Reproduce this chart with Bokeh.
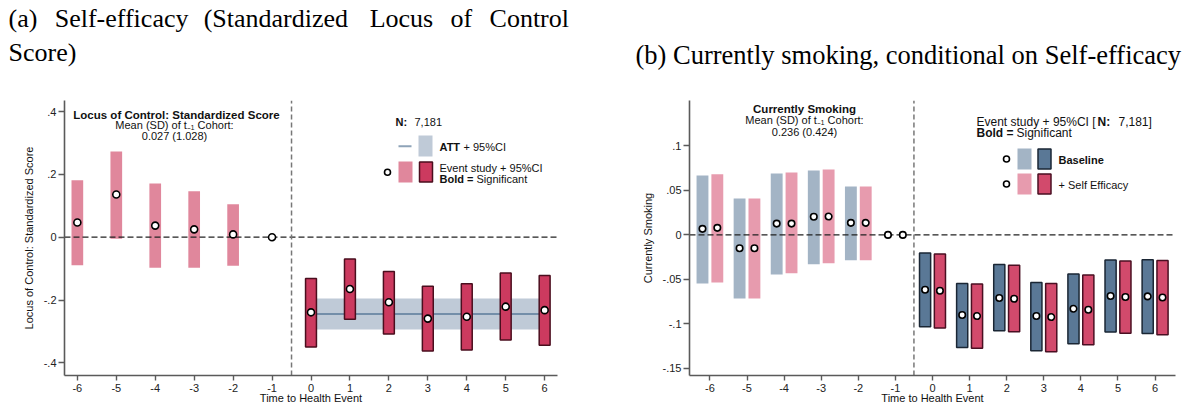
import math
from bokeh.plotting import figure
from bokeh.layouts import row
from bokeh.models import Label, FixedTicker, Range1d, ColumnDataSource, Title
from bokeh.embed import file_html
from bokeh.resources import INLINE

# ---------------- data: panel (a) ----------------
a_time = [-6, -5, -4, -3, -2, -1, 0, 1, 2, 3, 4, 5, 6]
a_est = [0.047, 0.136, 0.037, 0.025, 0.009, 0.0,
         -0.239, -0.165, -0.207, -0.259, -0.253, -0.221, -0.232]
a_lo = [-0.089, -0.005, -0.097, -0.097, -0.091, 0.0,
        -0.349, -0.261, -0.308, -0.362, -0.359, -0.327, -0.344]
a_hi = [0.181, 0.273, 0.171, 0.146, 0.105, 0.0,
        -0.131, -0.069, -0.109, -0.156, -0.148, -0.114, -0.122]
att_est, att_lo, att_hi = -0.244, -0.294, -0.195
att_span = [0, 6]
a_yticks = [-0.4, -0.2, 0, 0.2, 0.4]
a_ylabels = ["-.4", "-.2", "0", ".2", ".4"]

# ---------------- data: panel (b) ----------------
b_time = [-6, -5, -4, -3, -2, -1, 0, 1, 2, 3, 4, 5, 6]
b_base_est = [0.0068, -0.0151, 0.0127, 0.0203, 0.0135, 0.0,
              -0.0616, -0.0901, -0.0709, -0.0912, -0.0830, -0.0687, -0.0691]
b_base_lo = [-0.0545, -0.0714, -0.0444, -0.0331, -0.0286, 0.0,
             -0.1033, -0.1266, -0.1078, -0.1303, -0.1224, -0.1092, -0.1108]
b_base_hi = [0.0668, 0.0409, 0.0690, 0.0724, 0.0544, 0.0,
             -0.0203, -0.0545, -0.0334, -0.0534, -0.0439, -0.0282, -0.0278]
b_se_est = [0.0079, -0.0151, 0.0127, 0.0206, 0.0135, 0.0,
            -0.0627, -0.0912, -0.0717, -0.0923, -0.0841, -0.0698, -0.0703]
b_se_lo = [-0.0534, -0.0714, -0.0432, -0.0320, -0.0286, 0.0,
           -0.1047, -0.1273, -0.1089, -0.1314, -0.1235, -0.1104, -0.1123]
b_se_hi = [0.0680, 0.0410, 0.0700, 0.0735, 0.0544, 0.0,
           -0.0214, -0.0552, -0.0342, -0.0545, -0.0450, -0.0293, -0.0289]
b_yticks = [-0.15, -0.1, -0.05, 0, 0.05, 0.1]
b_ylabels = ["-.15", "-.1", "-.05", "0", ".05", ".1"]

SANS = "Liberation Sans"
SERIF = "Liberation Serif"
AX = "#5a5a5a"


def style_axes(p, xticks, yticks, ylabels, ylab, ylab_standoff):
    p.xgrid.visible = False
    p.ygrid.visible = False
    p.outline_line_color = None
    p.background_fill_color = "white"
    p.border_fill_color = "white"
    p.xaxis.ticker = FixedTicker(ticks=xticks)
    p.xaxis.major_label_overrides = {t: str(t) for t in xticks}
    p.yaxis.ticker = FixedTicker(ticks=yticks)
    p.yaxis.major_label_overrides = {t: l for t, l in zip(yticks, ylabels)}
    for ax in (p.xaxis[0], p.yaxis[0]):
        ax.axis_line_color = AX
        ax.axis_line_width = 1.6
        ax.major_tick_line_color = AX
        ax.major_tick_line_width = 1.4
        ax.major_tick_in = 0
        ax.minor_tick_line_color = None
        ax.major_label_text_font = SANS
        ax.major_label_text_font_size = "11px"
        ax.major_label_text_color = "#222222"
        ax.axis_label_text_font = SANS
        ax.axis_label_text_font_size = "11px"
        ax.axis_label_text_font_style = "normal"
        ax.axis_label_text_color = "#111111"
    p.xaxis.major_tick_out = 5
    p.xaxis.major_label_standoff = 3
    p.xaxis.axis_label = "Time to Health Event"
    p.xaxis.axis_label_standoff = -3
    p.yaxis.major_tick_out = 6
    p.yaxis.major_label_standoff = 2
    p.yaxis.axis_label = ylab
    p.yaxis.axis_label_standoff = ylab_standoff


def make_conv(x0px, x1px, xr, top_px, bot_px, yr):
    def cx(px):
        return xr[0] + (px - x0px) * (xr[1] - xr[0]) / (x1px - x0px)

    def cy(py):
        return yr[0] + (bot_px - py) * (yr[1] - yr[0]) / (bot_px - top_px)
    return cx, cy


def lab(p, x, y, text, size=11, bold=False, align="left", baseline="middle",
        font=SANS, color="#111111"):
    p.add_layout(Label(x=x, y=y, text=text, text_font=font,
                       text_font_size=f"{size}px",
                       text_font_style="bold" if bold else "normal",
                       text_align=align, text_baseline=baseline,
                       text_color=color))


# ================= panel (a) =================
AXR = (-6.33, 6.33)
AYR = (-0.44, 0.435)
pa = figure(width=600, height=407, x_range=Range1d(*AXR), y_range=Range1d(*AYR),
            output_backend="svg", toolbar_location=None,
            min_border_left=64, min_border_right=43,
            min_border_top=100, min_border_bottom=32)
style_axes(pa, a_time, a_yticks, a_ylabels, "Locus of Control: Standardized Score", 6)
LX, LY = make_conv(64, 557, AXR, 100, 375, AYR)

# ATT band and line
pa.quad(left=[att_span[0]], right=[att_span[1]], bottom=[att_lo], top=[att_hi],
        fill_color="#bfcad7", line_color=None)
pa.line(x=att_span, y=[att_est, att_est], line_color="#5a7a9a", line_width=1.5)

sig_a = [(lo > 0) or (hi < 0) for lo, hi in zip(a_lo, a_hi)]
has_bar = [hi > lo for lo, hi in zip(a_lo, a_hi)]
src_ns = ColumnDataSource(dict(
    x=[t for t, s, h in zip(a_time, sig_a, has_bar) if h and not s],
    top=[v for v, s, h in zip(a_hi, sig_a, has_bar) if h and not s],
    bottom=[v for v, s, h in zip(a_lo, sig_a, has_bar) if h and not s]))
src_s = ColumnDataSource(dict(
    x=[t for t, s, h in zip(a_time, sig_a, has_bar) if h and s],
    top=[v for v, s, h in zip(a_hi, sig_a, has_bar) if h and s],
    bottom=[v for v, s, h in zip(a_lo, sig_a, has_bar) if h and s]))
pa.vbar(x="x", top="top", bottom="bottom", width=0.3, source=src_ns,
        fill_color="#e0879c", line_color=None)
pa.vbar(x="x", top="top", bottom="bottom", width=0.28, source=src_s,
        fill_color="#cc3a5f", line_color="#4a0e1e", line_width=1.5)

# reference lines
pa.line(x=list(AXR), y=[0, 0], line_color="#222222", line_width=1.2, line_dash="6 3")
pa.line(x=[-0.5, -0.5], y=list(AYR), line_color="#777777", line_width=1.5, line_dash="5 3")

pa.scatter(x=a_time, y=a_est, size=7, marker="circle", fill_color="white",
           line_color="black", line_width=1.6)

# title (justified first line emulated with wider spaces; trailing blank line lifts it)
title_a = ("(a)\u2002\u2006Self-efficacy\u2002\u200a(Standardized\u2002\u2004Locus"
           "\u2002\u2006of\u2002\u2006Control\nScore)\n\u00a0")
pa.add_layout(Title(text=title_a, text_font=SERIF, text_font_size="26px",
                    text_font_style="normal", text_color="black", align="left",
                    vertical_align="bottom", offset=-56, standoff=0,
                    text_line_height=1.16), "above")

# inner annotation
lab(pa, LX(176), LY(114), "Locus of Control: Standardized Score", size=11.5,
    bold=True, align="center")
lab(pa, LX(174), LY(124.5), "Mean (SD) of t\u208b\u2081 Cohort:", size=11, align="center")
lab(pa, LX(174), LY(135), "0.027 (1.028)", size=11, align="center")

# legend (a)
lab(pa, LX(395), LY(121), "N:", size=11, bold=True)
lab(pa, LX(414), LY(121), "7,181", size=11)
pa.line(x=[LX(398), LX(411)], y=[LY(145.7), LY(145.7)], line_color="#8ea3b8", line_width=2)
pa.quad(left=[LX(418)], right=[LX(432)], top=[LY(135)], bottom=[LY(156)],
        fill_color="#bfcad7", line_color=None)
lab(pa, LX(439), LY(146), "ATT", size=11, bold=True)
lab(pa, LX(463), LY(146), "+ 95%CI", size=11)
pa.scatter(x=[LX(387)], y=[LY(171.7)], size=6, marker="circle", fill_color="white",
           line_color="black", line_width=1.6)
pa.quad(left=[LX(398)], right=[LX(412)], top=[LY(161)], bottom=[LY(182)],
        fill_color="#e0879c", line_color=None)
pa.quad(left=[LX(419)], right=[LX(432)], top=[LY(161.5)], bottom=[LY(181.5)],
        fill_color="#cc3a5f", line_color="#4a0e1e", line_width=1.5)
lab(pa, LX(439), LY(167), "Event study + 95%CI", size=11)
lab(pa, LX(439), LY(178.5), "Bold =", size=11, bold=True)
lab(pa, LX(476), LY(178.5), "Significant", size=11)

# ================= panel (b) =================
BXR = (-6.55, 6.55)
BYR = (-0.158, 0.151)
pb = figure(width=586, height=407, x_range=Range1d(*BXR), y_range=Range1d(*BYR),
            output_backend="svg", toolbar_location=None,
            min_border_left=89, min_border_right=11,
            min_border_top=100, min_border_bottom=32)
style_axes(pb, b_time, b_yticks, b_ylabels, "Currently Smoking", 6)
RX, RY = make_conv(689, 1175, BXR, 100, 375, BYR)

OFF = 0.2
series = [
    (b_base_est, b_base_lo, b_base_hi, -OFF, "#a3b4c5", "#5a7896", "#1a2634"),
    (b_se_est, b_se_lo, b_se_hi, OFF, "#e79bae", "#d24a6c", "#4a0f22"),
]
for est, lo, hi, off, light, dark, edge in series:
    xs = [t + off for t in b_time]
    sig = [(l > 0) or (h < 0) for l, h in zip(lo, hi)]
    hb = [h > l for l, h in zip(lo, hi)]
    ns = ColumnDataSource(dict(
        x=[x for x, s, b in zip(xs, sig, hb) if b and not s],
        top=[v for v, s, b in zip(hi, sig, hb) if b and not s],
        bottom=[v for v, s, b in zip(lo, sig, hb) if b and not s]))
    ss = ColumnDataSource(dict(
        x=[x for x, s, b in zip(xs, sig, hb) if b and s],
        top=[v for v, s, b in zip(hi, sig, hb) if b and s],
        bottom=[v for v, s, b in zip(lo, sig, hb) if b and s]))
    pb.vbar(x="x", top="top", bottom="bottom", width=0.32, source=ns,
            fill_color=light, line_color=None)
    pb.vbar(x="x", top="top", bottom="bottom", width=0.30, source=ss,
            fill_color=dark, line_color=edge, line_width=1.5)

pb.line(x=list(BXR), y=[0, 0], line_color="#222222", line_width=1.2, line_dash="6 3")
pb.line(x=[-0.5, -0.5], y=list(BYR), line_color="#555555", line_width=1.2, line_dash="5 3")

for est, lo, hi, off, light, dark, edge in series:
    pb.scatter(x=[t + off for t in b_time], y=est, size=6.5, marker="circle",
               fill_color="white", line_color="black", line_width=1.6)

# title
pb.add_layout(Title(text="(b) Currently smoking, conditional on Self-efficacy",
                    text_font=SERIF, text_font_size="26.5px", text_font_style="normal",
                    text_color="black", align="left", vertical_align="bottom",
                    offset=-54, standoff=62), "above")

# inner annotation
lab(pb, RX(804), RY(108), "Currently Smoking", size=11.5, bold=True, align="center")
lab(pb, RX(804), RY(119.5), "Mean (SD) of t\u208b\u2081 Cohort:", size=11, align="center")
lab(pb, RX(804), RY(131), "0.236 (0.424)", size=11, align="center")

# legend (b)
lab(pb, RX(976), RY(121), "Event study + 95%CI [", size=12)
lab(pb, RX(1097), RY(121), "N:", size=12, bold=True)
lab(pb, RX(1118), RY(121), "7,181]", size=12)
lab(pb, RX(976), RY(132.5), "Bold =", size=12, bold=True)
lab(pb, RX(1016), RY(132.5), "Significant", size=12)

rows_b = [(158.5, "#a3b4c5", "#5a7896", "#1a2634", "Baseline", True),
          (183.5, "#e79bae", "#d24a6c", "#4a0f22", "+ Self Efficacy", False)]
for yc, light, dark, edge, txt, bold in rows_b:
    pb.scatter(x=[RX(1006)], y=[RY(yc)], size=6, marker="circle", fill_color="white",
               line_color="black", line_width=1.6)
    pb.quad(left=[RX(1017)], right=[RX(1031)], top=[RY(yc - 10.5)], bottom=[RY(yc + 10.5)],
            fill_color=light, line_color=None)
    pb.quad(left=[RX(1037.5)], right=[RX(1050.5)], top=[RY(yc - 10)], bottom=[RY(yc + 10)],
            fill_color=dark, line_color=edge, line_width=1.5)
    lab(pb, RX(1058), RY(yc + 0.5), txt, size=11, bold=bold)

layout = row(pa, pb)
open("out.html", "w").write(file_html(layout, INLINE))
